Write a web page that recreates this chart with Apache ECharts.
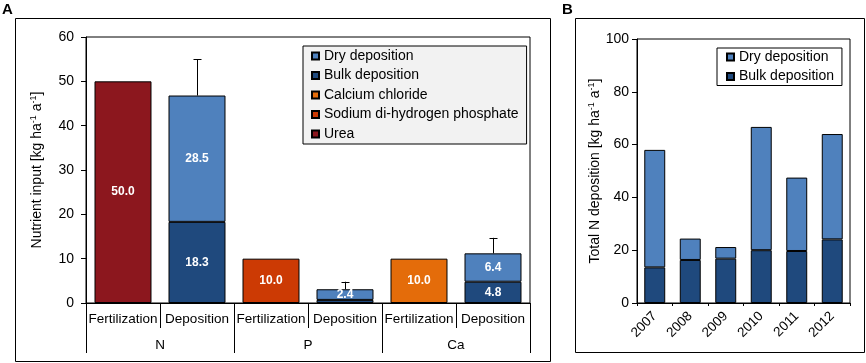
<!DOCTYPE html>
<html><head><meta charset="utf-8">
<script src="https://cdn.jsdelivr.net/npm/echarts@6/dist/echarts.min.js"></script>
<style>html,body{margin:0;padding:0;background:#fff}#c{width:866px;height:363px}</style>
</head><body><div id="c"></div>
<script>
// ---- data ----
const catsA = ['Fertilization','Deposition','Fertilization','Deposition','Fertilization','Deposition'];
const groupsA = ['N','P','Ca'];
const urea = [50.0,'-','-','-','-','-'];
const phosphate = ['-','-',10.0,'-','-','-'];
const calcium = ['-','-','-','-',10.0,'-'];
const bulkA = ['-',18.3,'-',0.7,'-',4.8];
const dryA = ['-',28.5,'-',2.4,'-',6.4];
const errA = ['-',8.2,'-',1.7,'-',3.5];
const yTicksA = [0,10,20,30,40,50,60];

const years = ['2007','2008','2009','2010','2011','2012'];
const bulkB = [13.5,16.3,16.8,20.0,19.7,24.1];
const dryB = [44.5,8.1,4.4,46.7,27.8,39.9];
const yTicksB = [0,20,40,60,80,100];

// ---- styling ----
const FF = '"Liberation Sans", Arial, Helvetica, sans-serif';
const C = {
  urea:'#8C171E', phos:'#CC3A04', ca:'#E46C0A', dry:'#4F81BD', bulk:'#1F497D'
};
const errData = [];
errA.forEach((e,i)=>{ if(e!=='-'){ const base=+(bulkA[i]+dryA[i]).toFixed(2); errData.push([i, base, base+e]); } });

const barLabel = {show:true, position:'inside', color:'#fff', fontWeight:'bold', fontSize:12, fontFamily:FF,
  formatter:p=> (typeof p.value==='number' && p.value>=1) ? p.value.toFixed(1) : ''};
const bs = c => ({color:c, borderColor:'#000', borderWidth:1});

const nameRich = {
  a:{fontSize:14, fontFamily:FF, color:'#000', lineHeight:16},
  s:{fontSize:9, fontFamily:FF, color:'#000', verticalAlign:'top', lineHeight:16}
};
const axisTxt = {color:'#000', fontFamily:FF};

const chart = echarts.init(document.getElementById('c'), null, {renderer:'canvas'});
chart.setOption({
  animation:false,
  backgroundColor:'#fff',
  title:[
    {text:'A', left:2, top:2, padding:0, textStyle:{fontSize:15, fontWeight:'bold', fontFamily:FF, color:'#000'}},
    {text:'B', left:562, top:2, padding:0, textStyle:{fontSize:15, fontWeight:'bold', fontFamily:FF, color:'#000'}}
  ],
  graphic:[
    {type:'rect', shape:{x:15.5,y:18.5,width:535,height:343}, style:{fill:'none', stroke:'#000', lineWidth:1}, silent:true},
    {type:'rect', shape:{x:575.5,y:18.5,width:289,height:334}, style:{fill:'none', stroke:'#000', lineWidth:1}, silent:true}
  ],
  legend:[
    {orient:'vertical', left:303, top:46, padding:[3,8,3,8], itemGap:5.5, itemWidth:7, itemHeight:7,
     backgroundColor:'#f2f2f2', borderColor:'#000', borderWidth:1, icon:'rect',
     textStyle:{fontSize:14, lineHeight:14, fontFamily:FF, color:'#000'},
     data:['Dry deposition','Bulk deposition','Calcium chloride','Sodium di-hydrogen phosphate','Urea']},
    {orient:'vertical', left:717, top:48, padding:[2,8,2,9], itemGap:5.5, itemWidth:7, itemHeight:7,
     backgroundColor:'#fff', borderColor:'#000', borderWidth:1, icon:'rect',
     textStyle:{fontSize:14, lineHeight:14, fontFamily:FF, color:'#000'},
     data:['Dry deposition','Bulk deposition']}
  ],
  grid:[
    {left:86, right:336, top:37, bottom:60, show:true, borderColor:'#000', borderWidth:1, backgroundColor:'transparent', containLabel:false},
    {left:637, right:16, top:39, bottom:60, show:true, borderColor:'#000', borderWidth:1, backgroundColor:'transparent', containLabel:false}
  ],
  xAxis:[
    {type:'category', gridIndex:0, data:catsA, position:'bottom',
     axisLine:{show:true, lineStyle:{color:'#000', width:1}},
     axisTick:{show:true, length:25, interval:0, lineStyle:{color:'#000', width:1}},
     axisLabel:Object.assign({interval:0, margin:9, fontSize:13.5}, axisTxt), splitLine:{show:false}},
    {type:'category', gridIndex:0, data:groupsA, position:'bottom',
     axisLine:{show:false},
     axisTick:{show:true, length:50, interval:0, lineStyle:{color:'#000', width:1}},
     axisLabel:Object.assign({interval:0, margin:35, fontSize:13.5}, axisTxt), splitLine:{show:false}},
    {type:'category', gridIndex:1, data:years, position:'bottom',
     axisLine:{show:true, lineStyle:{color:'#000', width:1}},
     axisTick:{show:true, length:3, interval:0, lineStyle:{color:'#000', width:1}},
     axisLabel:Object.assign({interval:0, rotate:45, margin:11, fontSize:13.5}, axisTxt), splitLine:{show:false}}
  ],
  yAxis:[
    {type:'value', gridIndex:0, min:yTicksA[0], max:yTicksA[yTicksA.length-1], interval:yTicksA[1]-yTicksA[0],
     axisLine:{show:true, lineStyle:{color:'#000', width:1}},
     axisTick:{show:true, length:5, lineStyle:{color:'#000', width:1}},
     axisLabel:Object.assign({margin:12, fontSize:14}, axisTxt), splitLine:{show:false},
     name:'{a|Nutrient input [kg ha}{s|-1}{a| a}{s|-1}{a|]}', nameLocation:'middle', nameGap:41, nameRotate:90,
     nameTextStyle:{rich:nameRich}},
    {type:'value', gridIndex:1, min:yTicksB[0], max:yTicksB[yTicksB.length-1], interval:yTicksB[1]-yTicksB[0],
     axisLine:{show:true, lineStyle:{color:'#000', width:1}},
     axisTick:{show:true, length:5, lineStyle:{color:'#000', width:1}},
     axisLabel:Object.assign({margin:8, fontSize:14}, axisTxt), splitLine:{show:false},
     name:'{a|Total N deposition [kg ha}{s|-1}{a| a}{s|-1}{a|]}', nameLocation:'middle', nameGap:33, nameRotate:90,
     nameTextStyle:{rich:nameRich}}
  ],
  series:[
    {name:'Urea', type:'bar', stack:'a', xAxisIndex:0, yAxisIndex:0, data:urea, barWidth:'77%', itemStyle:bs(C.urea), label:barLabel},
    {name:'Sodium di-hydrogen phosphate', type:'bar', stack:'a', xAxisIndex:0, yAxisIndex:0, data:phosphate, barWidth:'77%', itemStyle:bs(C.phos), label:barLabel},
    {name:'Calcium chloride', type:'bar', stack:'a', xAxisIndex:0, yAxisIndex:0, data:calcium, barWidth:'77%', itemStyle:bs(C.ca), label:barLabel},
    {name:'Bulk deposition', type:'bar', stack:'a', xAxisIndex:0, yAxisIndex:0, data:bulkA, barWidth:'77%', itemStyle:bs(C.bulk), label:barLabel},
    {name:'Dry deposition', type:'bar', stack:'a', xAxisIndex:0, yAxisIndex:0, data:dryA, barWidth:'77%', itemStyle:bs(C.dry), label:barLabel},
    {name:'err', type:'custom', xAxisIndex:0, yAxisIndex:0, data:errData, z:5, encode:{x:0, y:[1,2]},
     renderItem:function(params, api){
       const x=api.value(0), lo=api.value(1), hi=api.value(2);
       const p0=api.coord([x,lo]), p1=api.coord([x,hi]);
       const cx=Math.round(p0[0])+0.5;
       return {type:'group', children:[
         {type:'line', shape:{x1:cx,y1:p0[1],x2:cx,y2:p1[1]}, style:{stroke:'#000', lineWidth:1}},
         {type:'line', shape:{x1:cx-4,y1:Math.round(p1[1])+0.5,x2:cx+4,y2:Math.round(p1[1])+0.5}, style:{stroke:'#000', lineWidth:1}}
       ]};
     }},
    {name:'Bulk deposition', type:'bar', stack:'b', xAxisIndex:2, yAxisIndex:1, data:bulkB, barWidth:'59%', itemStyle:bs(C.bulk)},
    {name:'Dry deposition', type:'bar', stack:'b', xAxisIndex:2, yAxisIndex:1, data:dryB, barWidth:'59%', itemStyle:bs(C.dry)}
  ]
});
</script></body></html>
